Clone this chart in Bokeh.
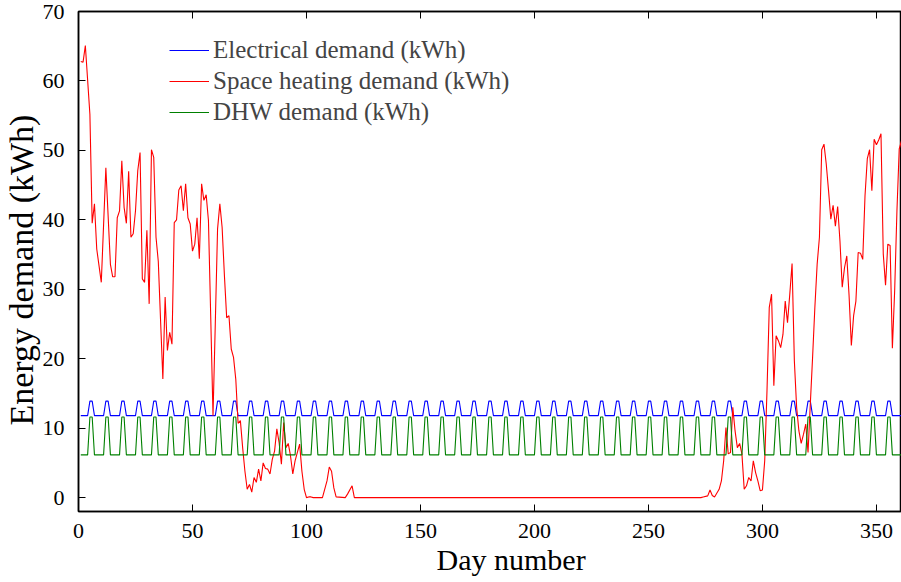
from bokeh.plotting import figure
from bokeh.models import Range1d, LinearAxis, FixedTicker, Title
from bokeh.embed import file_html
from bokeh.resources import INLINE

# ---- data ----
x_ticks = [0, 50, 100, 150, 200, 250, 300, 350]
y_ticks = [0, 10, 20, 30, 40, 50, 60, 70]

# weekly profiles (day 1..7), repeated every week
elec_week = [11.8, 11.8, 11.8, 11.8, 13.9, 13.9, 11.8]
dhw_week = [6.15, 6.15, 6.15, 6.15, 11.6, 11.6, 6.15]
n_days = 362
days = list(range(1, n_days + 1))
elec = [elec_week[(d - 1) % 7] for d in days]
dhw = [dhw_week[(d - 1) % 7] for d in days]

heat_day = [1, 2, 3, 5, 6, 7, 8, 10, 12, 14, 15, 16, 17, 18, 19, 20, 21, 22, 23, 24,
            25, 26, 27, 28, 29, 30, 31, 32, 33, 34, 35, 36, 37, 38, 39, 40, 41, 42, 43, 44,
            45, 46, 47, 48, 49, 50, 51, 52, 53, 54, 55, 56, 57, 58, 59, 60, 61, 62, 63, 64,
            65, 66, 67, 68, 69, 70, 71, 72, 73, 74, 75, 76, 77, 78, 79, 80, 81, 82, 83, 84,
            85, 86, 87, 88, 89, 90, 91, 92, 93, 94, 95, 96, 97, 98, 99, 100, 101, 102, 103, 107,
            109, 110, 111, 112, 113, 117, 118, 120, 121, 273, 274, 276, 277, 278, 279, 281, 282, 283,
            284, 285, 286, 287, 288, 289, 290, 291, 292, 293, 294, 295, 296, 297, 298, 299, 300,
            301, 302, 303, 304, 305, 306, 307, 308, 309, 310, 311, 312, 313, 314, 315, 316, 317,
            318, 319, 320, 321, 322, 323, 324, 325, 326, 327, 328, 329, 330, 331, 332, 333, 334,
            335, 336, 337, 338, 339, 340, 341, 342, 343, 344, 345, 346, 347, 348, 349, 350, 351,
            352, 353, 354, 355, 356, 357, 358, 359, 360, 361, 362]
heat_val = [62.8, 62.7, 65.1, 55.2, 39.5, 42.3, 35.8, 31.0, 47.5, 33.6, 31.8, 31.8, 40.3, 41.3, 48.5, 41.8, 39.5, 47.0, 37.5, 38.0,
            41.3, 47.1, 49.7, 31.5, 31.0, 38.5, 27.9, 50.1, 49.0, 37.5, 34.0, 25.5, 17.1, 28.9, 21.2, 23.8, 22.1, 39.6, 40.0, 44.3,
            44.9, 41.3, 45.2, 40.3, 39.4, 35.5, 36.5, 40.3, 34.4, 45.2, 42.8, 43.6, 39.9, 26.0, 11.8, 25.0, 38.7, 42.3, 38.9, 32.0,
            25.9, 26.2, 21.4, 20.2, 17.0, 10.7, 11.1, 7.2, 3.8, 1.2, 1.9, 0.8, 2.9, 2.2, 4.1, 2.4, 5.0, 4.2, 4.1, 3.4,
            5.5, 6.7, 9.9, 7.9, 4.8, 10.8, 7.2, 7.8, 6.0, 3.4, 5.3, 6.5, 7.7, 3.8, 1.2, 0.0, 0.1, 0.1, 0.0, 0.0,
            2.4, 4.4, 3.8, 1.4, 0.1, 0.0, 0.5, 1.7, 0.0, 0.0, 0.1, 0.25, 1.1, 0.3, 0.1, 1.2, 2.4, 5.3,
            10.1, 6.3, 6.5, 13.0, 9.6, 7.2, 7.8, 6.3, 1.2, 1.7, 2.9, 2.4, 5.3, 3.6, 2.4, 1.0, 1.1,
            5.3, 15.4, 27.4, 29.3, 16.1, 23.3, 22.6, 21.6, 23.5, 28.3, 25.2, 29.3, 33.7, 19.7, 13.0, 9.6, 7.8,
            9.1, 10.6, 6.5, 13.5, 20.2, 27.4, 33.6, 37.5, 50.1, 50.9, 48.0, 44.2, 40.1, 42.1, 39.1, 41.9, 37.0,
            30.3, 33.1, 34.8, 29.1, 21.9, 26.2, 28.3, 35.3, 35.2, 34.3, 43.5, 48.8, 50.1, 44.2, 51.6, 50.8, 51.5,
            52.4, 35.1, 30.6, 36.5, 36.3, 21.5, 29.8, 41.3, 50.2, 51.4, 52.8]

FONT = "Liberation Serif"

p = figure(width=901, height=582, output_backend="svg", toolbar_location=None,
           x_range=Range1d(0, 361), y_range=Range1d(-2, 70),
           min_border_left=77, min_border_right=0, min_border_top=11, min_border_bottom=71)
p.background_fill_color = "white"
p.border_fill_color = "white"
p.grid.visible = False
p.outline_line_color = "black"
p.outline_line_width = 1.5

r_e = p.line(days, elec, line_color="#0000ff", line_width=1.1, legend_label="Electrical demand (kWh)")
r_h = p.line(heat_day, heat_val, line_color="#ff0000", line_width=1.1, legend_label="Space heating demand (kWh)")
r_d = p.line(days, dhw, line_color="#008000", line_width=1.1, legend_label="DHW demand (kWh)")

for ax in (p.xaxis[0], p.yaxis[0]):
    ax.major_tick_in = 7
    ax.major_tick_out = 0
    ax.minor_tick_in = 0
    ax.minor_tick_out = 0
    ax.axis_line_width = 1.5
    ax.major_tick_line_width = 1
    ax.major_label_text_font = FONT
    ax.major_label_text_font_size = "22px"
    ax.major_label_text_color = "black"

p.xaxis[0].ticker = FixedTicker(ticks=x_ticks)
p.yaxis[0].ticker = FixedTicker(ticks=y_ticks)
p.xaxis[0].major_label_standoff = 12
p.yaxis[0].major_label_standoff = 14

top = LinearAxis(ticker=FixedTicker(ticks=x_ticks), major_tick_in=7, major_tick_out=0,
                 minor_tick_in=0, minor_tick_out=0,
                 major_label_overrides={t: "" for t in x_ticks},
                 major_label_standoff=0, axis_line_width=1.5)
p.add_layout(top, "above")

xlab = Title(text="Day number", align="left", offset=358, standoff=0,
             text_font=FONT, text_font_size="30px", text_font_style="normal", text_color="black")
p.add_layout(xlab, "below")
ylab = Title(text="Energy demand (kWh)", align="left", offset=86, standoff=0,
             text_font=FONT, text_font_size="34px", text_font_style="normal", text_color="black")
p.add_layout(ylab, "left")

lg = p.legend[0]
lg.location = (91, 385)
lg.label_text_font = FONT
lg.label_text_font_size = "25px"
lg.background_fill_alpha = 0
lg.border_line_alpha = 0
lg.glyph_width = 40
lg.label_standoff = 4
lg.spacing = 3
lg.padding = 0
lg.margin = 0

open("out.html", "w").write(file_html(p, INLINE))
